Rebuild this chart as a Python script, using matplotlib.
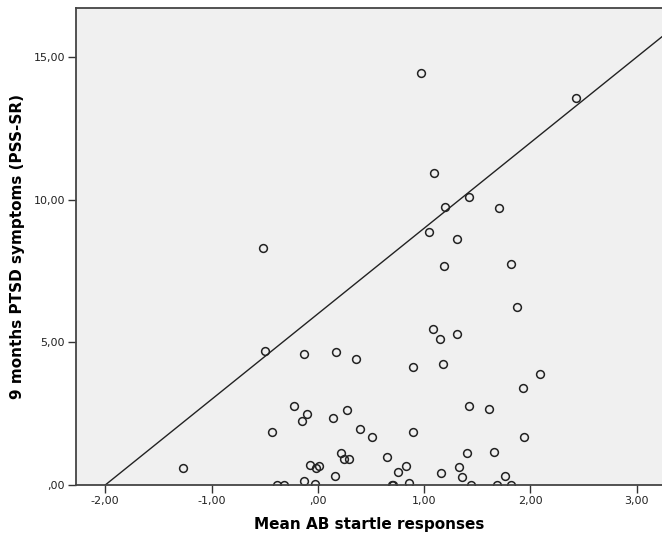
import matplotlib
matplotlib.use('Agg')
import matplotlib.pyplot as plt
from matplotlib.ticker import FuncFormatter

# Mean AB startle responses (x) vs 9 months PTSD symptoms (y)
startle = [0.97, 2.43, 1.09, 1.42, 1.20, 1.70, 1.05, 1.31, -0.52, 1.19, 1.82, 1.87,
           1.08, 1.15, 1.31, -0.50, -0.13, 0.17, 0.36, 0.90, 1.18, 2.09,
           1.93, -0.22, -0.10, -0.15, 0.14, 0.27, 1.42, 1.61,
           -0.43, 0.40, 0.51, 0.90, 1.94,
           0.22, 0.25, 0.29, 1.40, 1.66, 0.65,
           -1.27, -0.07, -0.02, 0.01, -0.13, -0.03, -0.38, -0.32, 0.16,
           0.75, 0.83, 0.70, 0.71, 0.86, 1.16, 1.33, 1.36, 1.76, 1.44, 1.69, 1.82]
ptsd = [14.45, 13.55, 10.93, 10.10, 9.73, 9.71, 8.86, 8.63, 8.30, 7.68, 7.75, 6.25,
        5.48, 5.11, 5.30, 4.70, 4.58, 4.66, 4.43, 4.13, 4.23, 3.88,
        3.39, 2.77, 2.50, 2.23, 2.34, 2.62, 2.76, 2.65,
        1.87, 1.95, 1.67, 1.87, 1.69,
        1.11, 0.90, 0.92, 1.11, 1.17, 0.98,
        0.60, 0.70, 0.60, 0.68, 0.14, 0.03, 0.0, 0.0, 0.32,
        0.44, 0.68, 0.0, 0.0, 0.08, 0.43, 0.62, 0.29, 0.30, 0.0, 0.0, 0.0]

# reference line y = intercept + slope * x
line_intercept = 6.0
line_slope = 3.0

x_ticks = [-2, -1, 0, 1, 2, 3]
y_ticks = [0, 5, 10, 15]


def spss_fmt(v, pos):
    s = '{:.2f}'.format(v).replace('.', ',')
    if s.startswith('0,'):
        s = s[1:]
    return s


fig = plt.figure(figsize=(6.62, 5.36), dpi=100)
ax = fig.add_axes([0.1148, 0.0951, 0.8852, 0.8905])
ax.set_facecolor('#f0f0f0')

ax.axline((0, line_intercept), slope=line_slope, color='#222222', lw=1.0)
ax.plot(startle, ptsd, 'o', ms=5.6, mfc='none', mec='#222222', mew=1.1)

ax.set_xlim(-2.275, 3.238)
ax.set_ylim(0, 16.73)
ax.set_xticks(x_ticks)
ax.set_yticks(y_ticks)
ax.xaxis.set_major_formatter(FuncFormatter(spss_fmt))
ax.yaxis.set_major_formatter(FuncFormatter(spss_fmt))

for side in ['left', 'bottom', 'top']:
    ax.spines[side].set_color('#444444')
    ax.spines[side].set_linewidth(1.3)
ax.spines['right'].set_visible(False)

ax.tick_params(direction='out', length=6, width=1, color='#333333',
               labelsize=8, labelcolor='#222222', pad=2)

ax.set_xlabel('Mean AB startle responses', fontsize=11, fontweight='bold', labelpad=8)
ax.set_ylabel('9 months PTSD symptoms (PSS-SR)', fontsize=11, fontweight='bold', labelpad=6)

fig.savefig('out.png', dpi=100)
